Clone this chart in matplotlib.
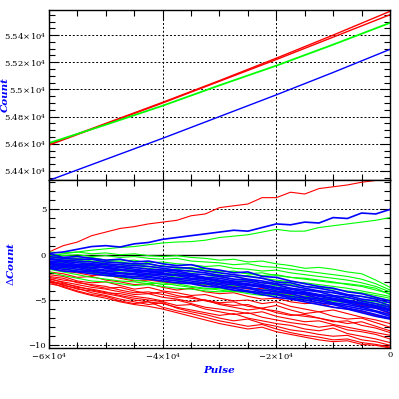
import numpy as np
import matplotlib
matplotlib.use("Agg")
import matplotlib.pyplot as plt
from matplotlib.ticker import MultipleLocator, FuncFormatter

plt.rcParams["font.family"] = "DejaVu Serif"
plt.rcParams["mathtext.fontset"] = "dejavuserif"

# upper panel: raw counts vs pulse, sampled every 10000 pulses
pulse_top = [-60000, -50000, -40000, -30000, -20000, -10000, 0]
count_red_a = [54595, 54750, 54905, 55065, 55230, 55400, 55575]
count_red_b = [54590, 54745, 54900, 55060, 55220, 55385, 55550]
count_green = [54605, 54740, 54880, 55030, 55175, 55330, 55490]
count_blue = [54330, 54485, 54640, 54800, 54960, 55125, 55295]

# lower panel: delta count traces, sampled every 2500 pulses
pulse_dev = np.linspace(-60000, 0, 25)

red_dev = [
    [0.3, 1.0, 1.4, 2.1, 2.5, 2.9, 3.1, 3.4, 3.6, 3.8, 4.3, 4.5, 5.2, 5.4, 5.6, 6.3, 6.3, 6.9, 6.7, 7.3, 7.5, 7.7, 8.0, 8.2, 8.3],
    [-1.5, -1.8, -2.0, -2.3, -2.2, -2.6, -2.9, -2.8, -3.0, -3.2, -3.1, -3.4, -3.0, -3.5, -3.8, -3.7, -4.2, -4.4, -4.6, -4.5, -5.0, -5.2, -5.6, -5.9, -6.5],
    [-1.9, -2.1, -2.5, -2.4, -2.8, -3.0, -3.3, -3.2, -3.6, -3.9, -3.7, -4.1, -4.3, -4.2, -4.6, -4.9, -4.8, -5.2, -5.4, -5.3, -5.8, -6.0, -6.3, -6.7, -7.0],
    [-2.2, -2.4, -2.9, -3.1, -3.0, -3.4, -3.8, -3.6, -4.0, -4.2, -4.5, -4.4, -4.8, -5.1, -5.0, -5.4, -5.2, -5.7, -6.0, -6.3, -6.1, -6.5, -6.9, -7.2, -7.6],
    [-2.5, -2.8, -3.0, -3.4, -3.7, -3.6, -4.0, -4.3, -4.1, -4.5, -4.8, -5.0, -5.3, -5.2, -5.7, -5.9, -5.6, -6.1, -6.5, -6.3, -6.8, -7.1, -7.0, -7.5, -8.0],
    [-2.7, -3.0, -3.3, -3.6, -3.8, -4.1, -4.4, -4.3, -4.7, -4.9, -5.2, -5.0, -5.5, -5.8, -6.1, -5.9, -6.4, -6.7, -6.6, -7.0, -7.3, -7.6, -7.4, -7.9, -8.4],
    [-2.9, -3.2, -3.5, -3.9, -4.2, -4.3, -4.6, -4.8, -5.1, -5.0, -5.4, -5.8, -6.0, -6.2, -6.5, -6.3, -6.8, -7.1, -7.4, -7.3, -7.7, -8.0, -8.3, -8.6, -8.9],
    [-2.6, -3.1, -3.6, -3.8, -4.1, -4.5, -4.8, -5.0, -5.2, -5.6, -5.5, -6.0, -6.3, -6.6, -6.4, -6.9, -7.2, -7.5, -7.7, -8.0, -7.8, -8.3, -8.5, -8.8, -9.3],
    [-3.0, -3.3, -3.8, -4.0, -4.3, -4.6, -5.0, -5.2, -5.4, -5.8, -6.1, -6.4, -6.7, -6.5, -7.0, -7.3, -7.6, -7.8, -8.2, -8.4, -8.1, -8.7, -9.0, -9.3, -9.7],
    [-2.8, -3.4, -3.7, -4.2, -4.5, -4.9, -5.2, -5.5, -5.3, -5.9, -6.3, -6.6, -7.0, -7.3, -7.1, -7.6, -7.9, -8.3, -8.5, -8.8, -9.0, -8.9, -9.4, -9.6, -10.0],
    [-3.2, -3.5, -4.0, -4.4, -4.6, -5.1, -5.4, -5.2, -5.8, -6.2, -6.5, -6.9, -7.3, -7.6, -7.9, -7.7, -8.2, -8.6, -8.9, -9.1, -9.4, -9.3, -9.7, -9.9, -10.2],
    [-2.4, -2.6, -3.1, -3.3, -3.5, -3.9, -4.2, -4.1, -4.4, -4.7, -4.6, -5.1, -5.4, -5.6, -5.5, -6.0, -6.2, -6.6, -6.8, -7.0, -7.4, -7.3, -7.8, -8.1, -8.6],
    [-3.0, -3.6, -4.1, -4.5, -4.8, -5.2, -5.5, -5.7, -6.0, -6.4, -6.8, -7.2, -7.6, -7.9, -8.2, -8.0, -8.5, -8.8, -9.1, -9.4, -9.6, -9.5, -9.9, -10.0, -10.3],
]

green_dev = [
    [-0.1, 0.1, 0.3, 0.5, 0.65, 0.8, 0.9, 1.1, 1.3, 1.4, 1.45, 1.6, 1.9, 2.05, 2.2, 2.5, 2.8, 2.6, 2.6, 3.0, 3.2, 3.4, 3.6, 3.8, 4.1],
    [0.3, 0.2, 0.3, 0.1, 0.2, 0.0, 0.1, -0.1, -0.2, -0.1, -0.3, -0.4, -0.6, -0.5, -0.8, -0.7, -1.0, -1.2, -1.5, -1.4, -1.6, -1.9, -2.1, -2.8, -3.6],
    [0.1, -0.1, 0.0, -0.2, -0.1, -0.3, -0.2, -0.4, -0.5, -0.4, -0.7, -0.8, -0.9, -1.1, -1.0, -1.3, -1.4, -1.6, -1.8, -2.0, -2.2, -2.4, -2.7, -3.2, -3.9],
    [-0.1, -0.3, -0.4, -0.3, -0.6, -0.7, -0.6, -0.9, -0.8, -1.0, -1.1, -1.3, -1.2, -1.5, -1.6, -1.8, -1.7, -2.0, -2.2, -2.4, -2.6, -2.8, -3.1, -3.5, -4.1],
    [-0.3, -0.4, -0.6, -0.8, -0.7, -0.9, -1.1, -1.0, -1.3, -1.4, -1.6, -1.5, -1.8, -1.9, -2.1, -2.0, -2.3, -2.5, -2.6, -2.8, -3.0, -3.3, -3.5, -3.9, -4.3],
    [-0.5, -0.7, -0.8, -1.0, -1.2, -1.1, -1.4, -1.5, -1.7, -1.6, -1.9, -2.0, -2.2, -2.4, -2.3, -2.6, -2.8, -3.0, -3.1, -3.3, -3.5, -3.7, -4.0, -4.3, -4.6],
    [-0.8, -0.9, -1.1, -1.3, -1.4, -1.6, -1.7, -1.9, -1.8, -2.1, -2.3, -2.5, -2.4, -2.7, -2.9, -3.1, -3.0, -3.3, -3.5, -3.6, -3.8, -4.0, -4.2, -4.5, -4.8],
    [-1.0, -1.2, -1.4, -1.6, -1.8, -1.9, -2.1, -2.3, -2.2, -2.5, -2.7, -2.9, -3.1, -3.0, -3.3, -3.5, -3.4, -3.7, -3.9, -4.0, -4.2, -4.4, -4.6, -4.8, -5.0],
    [-1.3, -1.5, -1.8, -2.0, -2.2, -2.4, -2.5, -2.7, -2.9, -2.8, -3.1, -3.3, -3.5, -3.4, -3.7, -3.9, -3.8, -4.1, -4.3, -4.4, -4.6, -4.8, -5.0, -5.2, -5.3],
    [-1.6, -1.9, -2.2, -2.5, -2.7, -2.9, -3.0, -3.2, -3.1, -3.4, -3.6, -3.8, -3.7, -4.0, -4.1, -4.3, -4.2, -4.5, -4.6, -4.8, -4.9, -5.1, -5.2, -5.4, -5.6],
    [-1.9, -2.3, -2.6, -2.9, -3.0, -3.2, -3.4, -3.3, -3.5, -3.7, -3.8, -4.0, -4.1, -4.0, -4.3, -4.5, -4.4, -4.7, -4.9, -5.0, -5.1, -5.3, -5.4, -5.6, -5.8],
    [-0.2, -0.5, -0.4, -0.7, -0.9, -0.8, -1.0, -1.3, -1.2, -1.5, -1.4, -1.7, -1.9, -1.8, -2.1, -2.3, -2.2, -2.5, -2.7, -2.9, -3.1, -3.2, -3.4, -3.7, -4.4],
    [-1.1, -1.4, -1.6, -1.9, -2.3, -2.5, -2.8, -3.0, -3.3, -3.2, -3.5, -3.7, -3.9, -4.1, -4.0, -4.3, -4.5, -4.6, -4.8, -4.9, -5.1, -5.3, -5.4, -5.6, -5.7],
]

blue_dev = [
    [0.15, 0.3, 0.6, 0.9, 1.0, 0.85, 1.2, 1.35, 1.7, 1.9, 2.1, 2.3, 2.5, 2.7, 2.6, 3.0, 3.4, 3.3, 3.6, 3.5, 4.1, 4.0, 4.6, 4.5, 5.0],
    [0.1, -0.3, -0.2, -0.4, -0.6, -0.5, -0.8, -0.7, -1.0, -1.2, -1.1, -1.5, -1.7, -2.0, -1.9, -2.4, -2.5, -2.9, -3.2, -3.5, -3.7, -4.1, -4.3, -4.7, -5.1],
    [-0.2, -0.4, -0.5, -0.5, -0.8, -0.9, -1.0, -1.0, -1.3, -1.4, -1.5, -1.8, -2.0, -2.2, -2.4, -2.6, -3.0, -3.1, -3.5, -3.7, -4.0, -4.4, -4.6, -4.9, -5.3],
    [-0.4, -0.6, -0.7, -0.8, -1.0, -1.1, -1.2, -1.3, -1.5, -1.7, -1.8, -2.0, -2.3, -2.4, -2.7, -2.9, -3.2, -3.4, -3.7, -4.0, -4.2, -4.5, -4.9, -5.1, -5.6],
    [-0.5, -0.7, -0.9, -1.0, -1.1, -1.3, -1.4, -1.6, -1.7, -1.8, -2.1, -2.2, -2.4, -2.7, -2.8, -3.1, -3.3, -3.7, -3.9, -4.1, -4.5, -4.7, -5.1, -5.4, -5.8],
    [-0.7, -0.8, -1.1, -1.1, -1.3, -1.4, -1.6, -1.8, -1.8, -2.0, -2.2, -2.5, -2.6, -2.9, -3.0, -3.3, -3.6, -3.8, -4.1, -4.4, -4.6, -5.0, -5.3, -5.6, -6.0],
    [-0.8, -1.0, -1.2, -1.4, -1.4, -1.6, -1.8, -1.9, -2.1, -2.2, -2.4, -2.6, -2.8, -3.1, -3.2, -3.5, -3.7, -4.0, -4.3, -4.5, -4.9, -5.2, -5.4, -5.8, -6.2],
    [-1.0, -1.1, -1.3, -1.5, -1.7, -1.7, -1.9, -2.1, -2.2, -2.3, -2.6, -2.7, -3.0, -3.2, -3.4, -3.6, -4.0, -4.2, -4.4, -4.8, -5.0, -5.3, -5.7, -5.9, -6.4],
    [-1.1, -1.3, -1.4, -1.7, -1.8, -2.0, -2.1, -2.2, -2.4, -2.6, -2.7, -2.9, -3.2, -3.3, -3.6, -3.9, -4.1, -4.3, -4.7, -4.9, -5.3, -5.5, -5.8, -6.2, -6.6],
    [-1.3, -1.4, -1.6, -1.8, -2.0, -2.1, -2.2, -2.4, -2.6, -2.7, -2.9, -3.1, -3.3, -3.6, -3.7, -4.1, -4.3, -4.6, -4.8, -5.1, -5.4, -5.7, -6.0, -6.3, -6.8],
    [-1.4, -1.6, -1.8, -1.9, -2.1, -2.3, -2.4, -2.5, -2.7, -2.9, -3.1, -3.2, -3.5, -3.7, -4.0, -4.2, -4.4, -4.8, -5.0, -5.3, -5.5, -5.9, -6.2, -6.6, -7.0],
    [-1.5, -1.8, -1.9, -2.1, -2.3, -2.4, -2.6, -2.7, -2.9, -3.1, -3.2, -3.5, -3.6, -3.9, -4.1, -4.4, -4.7, -4.9, -5.2, -5.5, -5.8, -6.0, -6.4, -6.8, -7.1],
    [-0.9, -1.2, -1.3, -1.2, -1.5, -1.7, -1.8, -1.8, -2.0, -2.3, -2.3, -2.6, -2.9, -3.0, -3.3, -3.4, -3.8, -4.1, -4.2, -4.6, -4.8, -5.1, -5.5, -5.7, -6.1],
]

RED, GREEN, BLUE = "#ff0000", "#00ff00", "#0000ff"

fig = plt.figure(figsize=(3.99, 3.99), dpi=100)
ax1 = fig.add_axes([0.1228, 0.5489, 0.8546, 0.4261])
ax2 = fig.add_axes([0.1228, 0.1278, 0.8546, 0.4211])


def pow_fmt(v, pos):
    if abs(v) < 1e-9:
        return "0"
    return r"$%g\!\times\!10^{4}$" % (v / 1e4)


def style_axis(ax):
    ax.set_xlim(-60000, 0)
    ax.xaxis.set_major_locator(MultipleLocator(20000))
    ax.xaxis.set_minor_locator(MultipleLocator(5000))
    ax.tick_params(which="both", direction="in", top=True, right=True,
                   labelsize=6, colors="black", width=0.8, pad=2)
    ax.tick_params(which="major", length=7)
    ax.tick_params(which="minor", length=4)
    for sp in ax.spines.values():
        sp.set_linewidth(1.0)
    ax.grid(True, which="major", color="black", linestyle=(0, (2, 2)), linewidth=0.7)
    ax.set_axisbelow(True)


lab_kw = dict(color="blue", fontsize=7.5, style="italic", fontweight="bold")

# top panel
ax1.plot(pulse_top, count_red_a, color=RED, lw=1.0)
ax1.plot(pulse_top, count_red_b, color=RED, lw=1.0)
ax1.plot(pulse_top, count_green, color=GREEN, lw=1.3)
ax1.plot(pulse_top, count_blue, color=BLUE, lw=1.0)
style_axis(ax1)
ax1.set_ylim(54333, 55585)
ax1.yaxis.set_major_locator(MultipleLocator(200))
ax1.yaxis.set_minor_locator(MultipleLocator(50))
ax1.yaxis.set_major_formatter(FuncFormatter(pow_fmt))
ax1.tick_params(labelbottom=False)
ax1.set_ylabel("Count", **lab_kw)

# bottom panel
for tr in red_dev:
    ax2.plot(pulse_dev, tr, color=RED, lw=0.8)
for tr in green_dev:
    ax2.plot(pulse_dev, tr, color=GREEN, lw=0.8)
for tr in blue_dev:
    ax2.plot(pulse_dev, tr, color=BLUE, lw=1.2)
style_axis(ax2)
ax2.axhline(0, color="black", lw=1.0, zorder=0.5)
ax2.set_ylim(-10.3, 8.25)
ax2.yaxis.set_major_locator(MultipleLocator(5))
ax2.yaxis.set_minor_locator(MultipleLocator(1))
ax2.xaxis.set_major_formatter(FuncFormatter(pow_fmt))
ax2.set_ylabel(r"$\Delta$Count", **lab_kw)
ax2.set_xlabel("Pulse", labelpad=3, **lab_kw)

ax1.yaxis.set_label_coords(-0.115, 0.5)
ax2.yaxis.set_label_coords(-0.098, 0.5)

fig.savefig("out.png", dpi=100)
